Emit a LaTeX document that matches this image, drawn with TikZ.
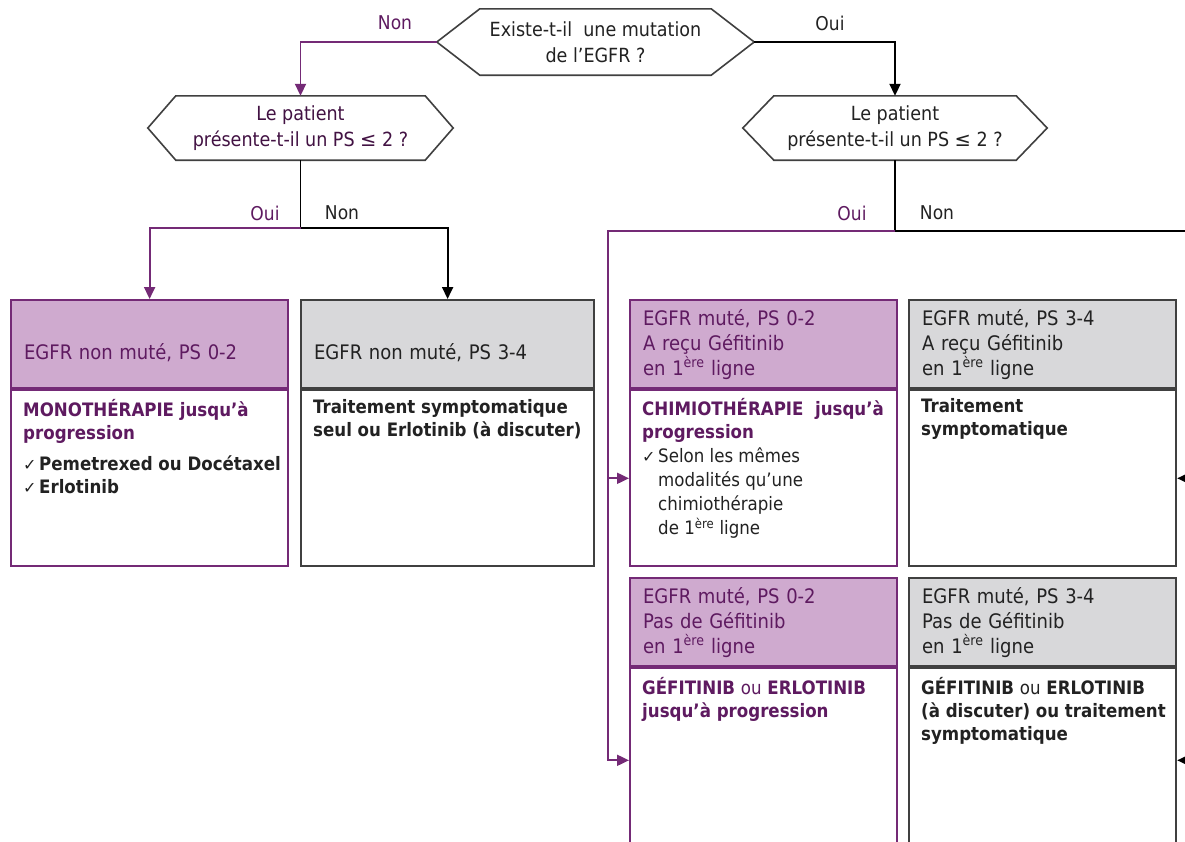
\documentclass[tikz,border=0pt]{standalone}
\usepackage{fontspec}
\setmainfont{DejaVu Sans Condensed}
\newfontfamily\symb{DejaVu Sans}
\usetikzlibrary{arrows.meta,positioning}

\definecolor{violetligne}{HTML}{742A76}
\definecolor{violettexte}{HTML}{5E1A60}
\definecolor{mauvefond}{HTML}{CFAACF}
\definecolor{grisfond}{HTML}{D8D8DA}
\definecolor{grisbord}{HTML}{404040}
\definecolor{noirtexte}{HTML}{222222}

\newcommand\coche{\makebox[16pt][l]{\symb\fontsize{16}{16}\selectfont ✓}}
\newcommand\hexagone[2]{%
  \draw[line width=1.6pt, grisbord] (#1.west) -- ([xshift=#2]#1.north west)
    -- ([xshift=-#2]#1.north east) -- (#1.east) -- ([xshift=-#2]#1.south east)
    -- ([xshift=#2]#1.south west) -- cycle;}

\tikzset{
  >={Triangle[length=12pt,width=11pt]},
  lien/.style={line width=1.9pt},
  question/.style={align=center, inner sep=0pt, text=noirtexte,
    font=\fontsize{19.5}{25.5}\selectfont},
  etiquette/.style={inner sep=0pt, font=\fontsize{19}{20}\selectfont},
  entete/.style={anchor=north west, align=left, inner xsep=13pt, inner ysep=0pt,
    minimum height=88pt, line width=2.2pt, font=\fontsize{20}{25}\selectfont},
  entetemauve/.style={entete, fill=mauvefond, draw=violetligne, text=violettexte},
  entetegris/.style={entete, fill=grisfond, draw=grisbord, text=noirtexte},
  corps/.style={anchor=north west, inner sep=0pt, line width=2.2pt, fill=white},
  corpsmauve/.style={corps, draw=violetligne},
  corpsgris/.style={corps, draw=grisbord},
  textecorps/.style={anchor=north west, align=left, inner sep=0pt, text=noirtexte,
    font=\fontsize{18.5}{23}\selectfont}
}

\begin{document}
\begin{tikzpicture}[x=1pt, y=-1pt]
\useasboundingbox (0,0) rectangle (1185,841);
\fill[white] (0,0) rectangle (1185,841);

% questions
\node[question, minimum width=317pt, minimum height=66pt] (mutation) at (595.5,42)
  {Existe-t-il\ \ une mutation\\de l'EGFR ?};
\node[question, text=violettexte!70!black, minimum width=305pt, minimum height=64pt] (psnon) at (300.5,128)
  {Le patient\\présente-t-il un PS {\symb ≤} 2 ?};
\node[question, minimum width=304pt, minimum height=64pt] (psoui) at (895,128)
  {Le patient\\présente-t-il un PS {\symb ≤} 2 ?};
\hexagone{mutation}{43}
\hexagone{psnon}{28}
\hexagone{psoui}{31}

% EGFR non mute
\node[entetemauve, text width=251pt, text height=34pt] (enteteA) at (10,299) {EGFR non muté, PS 0-2};
\node[corpsmauve, minimum width=277pt, minimum height=176pt] (corpsA) at (enteteA.south west) {};
\node[textecorps] (texteA) at ([shift={(13,10)}]corpsA.north west)
  {\textbf{\color{violettexte}MONOTHÉRAPIE jusqu'à}\\\textbf{\color{violettexte}progression}\\[8pt]
   \textbf{\coche Pemetrexed ou Docétaxel}\\\textbf{\coche Erlotinib}};

\node[entetegris, text width=267pt, text height=34pt] (enteteB) at (300,299) {EGFR non muté, PS 3-4};
\node[corpsgris, minimum width=293pt, minimum height=176pt] (corpsB) at (enteteB.south west) {};
\node[textecorps] (texteB) at ([shift={(13,10)}]corpsB.north west)
  {\textbf{Traitement symptomatique}\\\textbf{seul ou Erlotinib (à discuter)}};

% EGFR mute, Gefitinib en 1re ligne
\node[entetemauve, text width=241pt] (enteteC) at (629,299)
  {EGFR muté, PS 0-2\\A reçu Géfitinib\\en 1\textsuperscript{ère} ligne};
\node[corpsmauve, minimum width=267pt, minimum height=176pt] (corpsC) at (enteteC.south west) {};
\node[textecorps] (texteC) at ([shift={(13,9)}]corpsC.north west)
  {\textbf{\color{violettexte}CHIMIOTHÉRAPIE\ \ jusqu'à}\\\textbf{\color{violettexte}progression}\\[1pt]
   \coche Selon les mêmes\\[1pt]\hspace*{16pt}modalités qu'une\\[1pt]\hspace*{16pt}chimiothérapie\\[1pt]
   \hspace*{16pt}de 1\textsuperscript{ère} ligne};

\node[entetegris, text width=241pt] (enteteD) at (908,299)
  {EGFR muté, PS 3-4\\A reçu Géfitinib\\en 1\textsuperscript{ère} ligne};
\node[corpsgris, minimum width=267pt, minimum height=176pt] (corpsD) at (enteteD.south west) {};
\node[textecorps] (texteD) at ([shift={(13,9)}]corpsD.north west)
  {\textbf{Traitement}\\\textbf{symptomatique}};

% EGFR mute, pas de Gefitinib
\node[entetemauve, text width=241pt] (enteteE) at (629,577)
  {EGFR muté, PS 0-2\\Pas de Géfitinib\\en 1\textsuperscript{ère} ligne};
\node[corpsmauve, minimum width=267pt, minimum height=184pt] (corpsE) at (enteteE.south west) {};
\node[textecorps] (texteE) at ([shift={(13,10)}]corpsE.north west)
  {\textbf{\color{violettexte}GÉFITINIB {\mdseries ou} ERLOTINIB}\\\textbf{\color{violettexte}jusqu'à progression}};

\node[entetegris, text width=241pt] (enteteF) at (908,577)
  {EGFR muté, PS 3-4\\Pas de Géfitinib\\en 1\textsuperscript{ère} ligne};
\node[corpsgris, minimum width=267pt, minimum height=184pt] (corpsF) at (enteteF.south west) {};
\node[textecorps] (texteF) at ([shift={(13,10)}]corpsF.north west)
  {\textbf{GÉFITINIB {\mdseries ou} ERLOTINIB}\\\textbf{(à discuter) ou traitement}\\\textbf{symptomatique}};

% liens
\coordinate (jonctionG) at (300.5,228);
\coordinate (jonctionD) at (895,231);
\coordinate (coudeOui) at (608,231);
\coordinate (coudeNon) at (1200,231);
\draw[lien, violetligne, ->] (mutation.west) -| (psnon.north);
\draw[lien, ->] (mutation.east) -| (psoui.north);
\draw[lien] (psnon.south) -- (jonctionG);
\draw[lien, violetligne, ->] (jonctionG) -| (enteteA.north);
\draw[lien, ->] (jonctionG) -| (enteteB.north);
\draw[lien] (psoui.south) -- (jonctionD);
\draw[lien, violetligne, ->] (jonctionD) -- (coudeOui) |- (corpsC.west);
\draw[lien, violetligne, ->] (coudeOui) |- (corpsE.west);
\draw[lien, ->] (jonctionD) -- (coudeNon) |- (corpsD.east);
\draw[lien, ->] (coudeNon) |- (corpsF.east);

% etiquettes
\node[etiquette, text=violettexte] (nonHaut) at (395,23) {Non};
\node[etiquette, text=noirtexte] (ouiHaut) at (830,23) {Oui};
\node[etiquette, text=violettexte] (ouiG) at (265,213) {Oui};
\node[etiquette, text=noirtexte] (nonG) at (342,213) {Non};
\node[etiquette, text=violettexte] (ouiD) at (852,213) {Oui};
\node[etiquette, text=noirtexte] (nonD) at (937,213) {Non};
\end{tikzpicture}
\end{document}
